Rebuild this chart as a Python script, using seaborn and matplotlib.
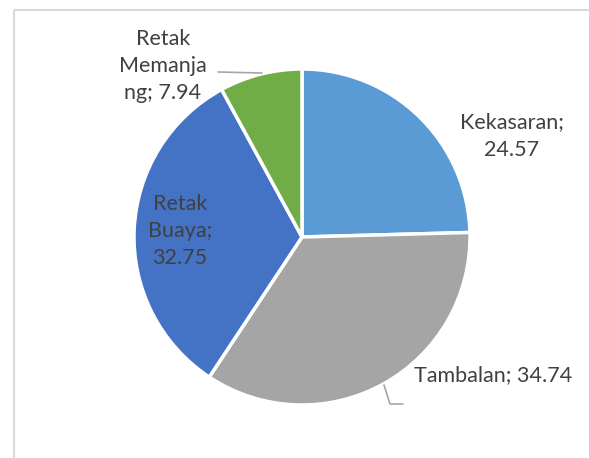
import matplotlib
matplotlib.use("Agg")
import matplotlib.pyplot as plt
import seaborn as sns
from matplotlib.patches import Rectangle

# data
categories = ["Kekasaran", "Tambalan", "Retak Buaya", "Retak Memanjang"]
values = [24.57, 34.74, 32.75, 7.94]
colors = ["#5B9BD5", "#A5A5A5", "#4472C4", "#70AD47"]

sns.set_theme(style="white")
plt.rcParams["font.family"] = ["Lato", "DejaVu Sans"]

W, H = 589, 458
fig = plt.figure(figsize=(W / 100, H / 100), dpi=100)
ax = fig.add_axes([0, 0, 1, 1])

# chart border
ax.add_patch(Rectangle((14, 10), 700, 600, fill=False, edgecolor="#D9D9D9", linewidth=1.5))

# y axis is inverted (pixel coords), so start at -90 to begin at top and go clockwise
wedges, _ = ax.pie(values, colors=colors, startangle=-90, counterclock=True,
                   center=(302, 237), radius=168,
                   wedgeprops=dict(edgecolor="white", linewidth=2.5), frame=True)
ax.set_xlim(0, W)
ax.set_ylim(H, 0)
ax.set_aspect("equal")
ax.axis("off")

txt = dict(color="#404040", fontsize=15.5, ha="center", va="center", linespacing=1.45)
ax.text(512, 136, "Kekasaran;\n24.57", **txt)
ax.text(493, 375, "Tambalan; 34.74", **txt)
ax.text(180, 231, "Retak\nBuaya;\n32.75", **txt)
ax.text(163, 66, "Retak\nMemanja\nng; 7.94", **txt)

# leader lines
ax.plot([218, 262], [72, 73], color="#A6A6A6", linewidth=1.2)
ax.plot([384, 390, 403], [385, 404, 404], color="#A6A6A6", linewidth=1.2)

fig.savefig("out.png", dpi=100)
